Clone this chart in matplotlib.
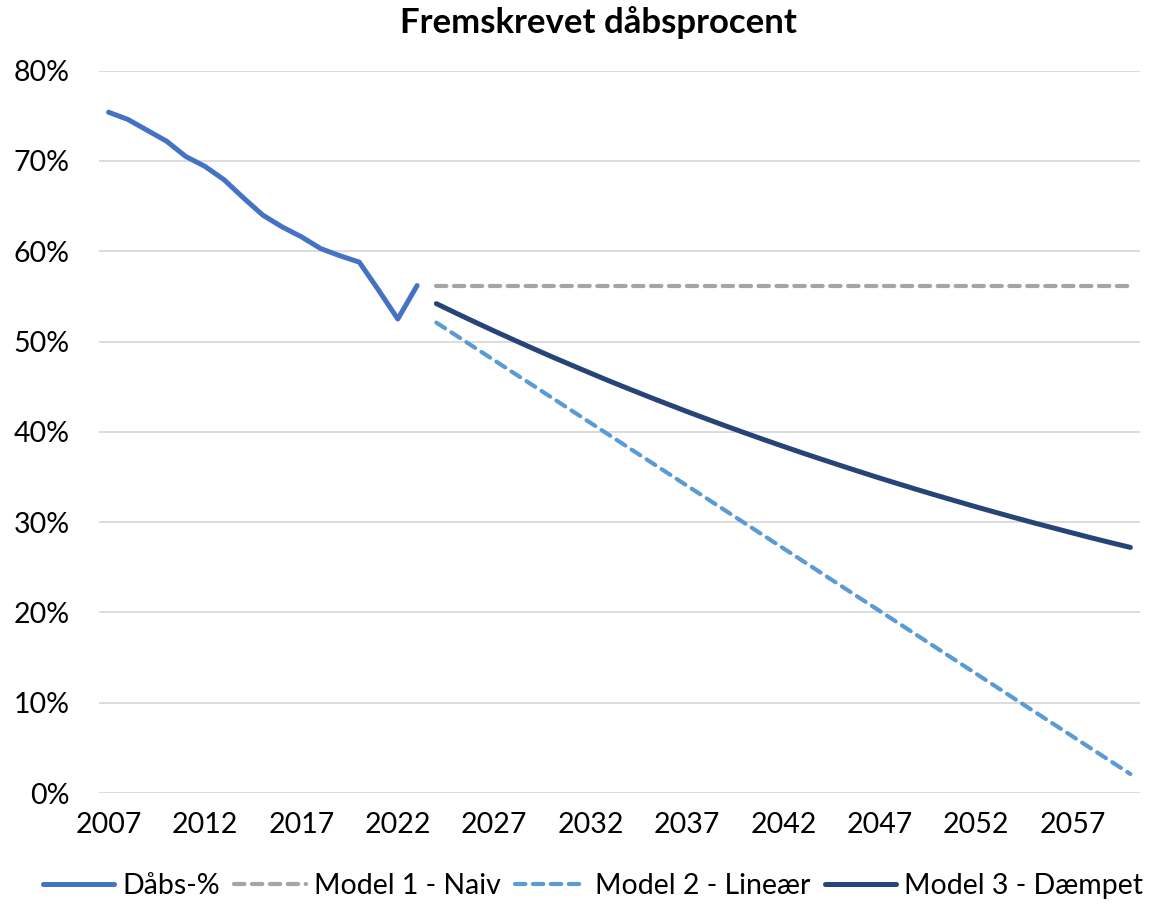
import matplotlib
matplotlib.use("Agg")
import matplotlib.pyplot as plt
from matplotlib.ticker import PercentFormatter

plt.rcParams['font.family'] = ['Lato', 'DejaVu Sans']

# ---- data ----
hist_years = list(range(2007, 2024))
daabs_pct = [75.4, 74.6, 73.4, 72.2, 70.5, 69.4, 67.9, 65.9, 64.0, 62.7,
             61.6, 60.3, 59.5, 58.8, 55.7, 52.5, 56.2]

fc_years = list(range(2024, 2061))
model1_naiv = [56.2] * 37
model2_linear = [52.10, 50.71, 49.32, 47.93, 46.54, 45.16, 43.77, 42.38, 40.99, 39.60,
                 38.21, 36.82, 35.43, 34.04, 32.66, 31.27, 29.88, 28.49, 27.10, 25.71,
                 24.32, 22.93, 21.54, 20.16, 18.77, 17.38, 15.99, 14.60, 13.21, 11.82,
                 10.43, 9.04, 7.66, 6.27, 4.88, 3.49, 2.10]
model3_daempet = [54.20, 53.17, 52.16, 51.17, 50.20, 49.25, 48.31, 47.40, 46.50, 45.61,
                  44.75, 43.90, 43.07, 42.25, 41.45, 40.66, 39.89, 39.13, 38.39, 37.66,
                  36.95, 36.25, 35.56, 34.88, 34.22, 33.57, 32.93, 32.31, 31.69, 31.09,
                  30.50, 29.92, 29.36, 28.80, 28.25, 27.72, 27.20]

y_ticks = [0, 10, 20, 30, 40, 50, 60, 70, 80]
x_tick_years = [2007, 2012, 2017, 2022, 2027, 2032, 2037, 2042, 2047, 2052, 2057]

title = "Fremskrevet dåbsprocent"
labels = ["Dåbs-%", "Model 1 - Naiv", "Model 2 - Lineær", "Model 3 - Dæmpet"]

# ---- figure ----
W, H = 1149, 908
fig = plt.figure(figsize=(W / 100, H / 100), dpi=100)
ax = fig.add_axes([99 / W, 1 - 793 / H, (1140 - 99) / W, (793 - 70.7) / H])

c_hist = '#4472C4'
c_m1 = '#A5A5A5'
c_m2 = '#5B9BD5'
c_m3 = '#264478'

l0, = ax.plot(hist_years, daabs_pct, color=c_hist, lw=3.6,
              solid_capstyle='round', solid_joinstyle='round', clip_on=False, zorder=3)
l1, = ax.plot(fc_years, model1_naiv, color=c_m1, lw=3.0, dashes=(2.5, 1.8),
              dash_capstyle='round', clip_on=False, zorder=3)
l2, = ax.plot(fc_years, model2_linear, color=c_m2, lw=3.0, dashes=(2.5, 1.8),
              dash_capstyle='round', clip_on=False, zorder=3)
l3, = ax.plot(fc_years, model3_daempet, color=c_m3, lw=3.6,
              solid_capstyle='round', solid_joinstyle='round', clip_on=False, zorder=3)

ax.set_xlim(2006.5, 2060.5)
ax.set_ylim(0, 80)
ax.set_yticks(y_ticks)
ax.yaxis.set_major_formatter(PercentFormatter(decimals=0))
ax.set_xticks(x_tick_years)
ax.set_xticklabels([str(y) for y in x_tick_years])

ax.grid(axis='y', color='#D9D9D9', lw=1.3, zorder=0)
ax.grid(axis='x', visible=False)
for s in ax.spines.values():
    s.set_visible(False)
ax.tick_params(axis='both', length=0, labelsize=20.5, colors='black')
ax.tick_params(axis='y', pad=21)
ax.tick_params(axis='x', pad=14)

fig.text(598 / W, 1 - 23 / H, title, ha='center', va='center',
         fontsize=25, fontweight='bold')

leg = fig.legend([l0, l1, l2, l3], labels, loc='center',
                 bbox_to_anchor=(593 / W, 1 - 886 / H), ncol=4, frameon=False,
                 fontsize=20.5, handlelength=2.5, handletextpad=0.3,
                 columnspacing=0.5, borderpad=0)

fig.savefig('out.png', dpi=100, facecolor='white')
